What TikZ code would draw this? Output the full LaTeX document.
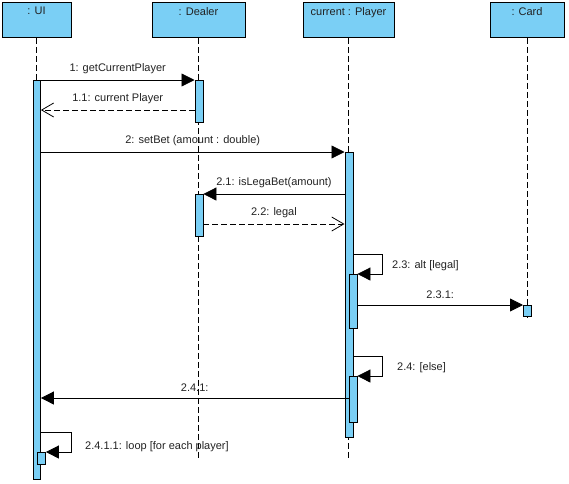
\documentclass[tikz,border=0pt]{standalone}
\usepackage{fontspec}
\setmainfont{Liberation Sans}
\usetikzlibrary{arrows.meta}
\definecolor{actfill}{HTML}{7ACFF5}
\definecolor{txt}{HTML}{222222}
\tikzset{
  obj/.style={draw=black,fill=actfill,line width=0.9pt,minimum width=#1,minimum height=35pt,inner sep=0pt,anchor=north},
  act/.style={draw=black,fill=actfill,line width=0.9pt,inner sep=0pt,anchor=north west},
  life/.style={draw=black,line width=0.8pt,dash pattern=on 6pt off 3pt},
  msg/.style={draw=black,line width=0.8pt,-{Triangle[length=13pt,width=13pt]}},
  ret/.style={draw=black,line width=0.8pt,dash pattern=on 6pt off 3pt,-{Straight Barb[length=12pt,width=14pt,line width=0.8pt]}},
  lbl/.style={text=txt,font=\fontsize{11}{13}\selectfont,inner sep=0pt},
}
\begin{document}
\begin{tikzpicture}[x=1pt,y=-1pt]
\useasboundingbox (0,0) rectangle (569,483);
% objects
\node[obj=69pt] (ui) at (36.5,2) {};
\node[lbl,anchor=north] at (ui.north) [yshift=-5pt] {: UI};
\node[obj=93pt] (dealer) at (198.5,2) {};
\node[lbl,anchor=north] at (dealer.north) [yshift=-5pt] {: Dealer};
\node[obj=91pt] (player) at (348.5,2) {};
\node[lbl,anchor=north] at (player.north) [yshift=-5pt] {current : Player};
\node[obj=74pt] (card) at (527,2) {};
\node[lbl,anchor=north] at (card.north) [yshift=-5pt] {: Card};
% lifelines
\coordinate (uiend) at (36.5,479);
\coordinate (dend) at (198.5,458);
\coordinate (pend) at (348.5,458);
\coordinate (cend) at (527,318);
\draw[life] (ui.south) -- (uiend);
\draw[life] (dealer.south) -- (dend);
\draw[life] (player.south) -- (pend);
\draw[life] (card.south) -- (cend);
% activations
\node[act,minimum width=7pt,minimum height=399pt] (aui) at (33,80) {};
\node[act,minimum width=8pt,minimum height=42pt] (ad1) at (194.5,80) {};
\node[act,minimum width=8pt,minimum height=285pt] (ap) at (344.5,152) {};
\node[act,minimum width=8pt,minimum height=42pt] (ad2) at (194.5,194) {};
\node[act,minimum width=8pt,minimum height=54pt] (ap2) at (348.5,274) {};
\node[act,minimum width=8pt,minimum height=11pt] (ac) at (523,305) {};
\node[act,minimum width=8pt,minimum height=46pt] (ap3) at (348.5,376) {};
\node[act,minimum width=8pt,minimum height=12pt] (au2) at (37,452) {};
% messages
\draw[msg] (aui.north east) -- (ad1.north west) node[lbl,midway,above=6pt] {1: getCurrentPlayer};
\draw[ret] (ad1.west |- 0,110) -- (aui.east |- 0,110) node[lbl,midway,above=6pt] {1.1: current Player};
\draw[msg] (aui.east |- ap.north) -- (ap.north west) node[lbl,pos=0.5,above=6pt] {2: setBet (amount : double)};
\draw[msg] (ap.west |- ad2.north) -- (ad2.north east) node[lbl,midway,above=6pt] {2.1: isLegaBet(amount)};
\draw[ret] (ad2.east |- 0,224) -- (ap.west |- 0,224) node[lbl,midway,above=6pt] {2.2: legal};
\coordinate (l1) at (382,254);
\draw[msg] (ap.east |- l1) -- (l1) |- (ap2.east |- 0,274);
\node[lbl,anchor=west] at (392,266) {2.3: alt [legal]};
\draw[msg] (ap2.east |- ac.north) -- (ac.north west) node[lbl,midway,above=6pt] {2.3.1:};
\coordinate (l2) at (382,356);
\draw[msg] (ap.east |- l2) -- (l2) |- (ap3.east |- 0,376);
\node[lbl,anchor=west] at (397,368) {2.4: [else]};
\draw[msg] (ap3.west |- 0,398) -- (aui.east |- 0,398) node[lbl,midway,above=6pt] {2.4.1:};
\coordinate (l3) at (71.5,432);
\draw[msg] (aui.east |- l3) -- (l3) |- (au2.east |- 0,452);
\node[lbl,anchor=west] at (85,447) {2.4.1.1: loop [for each player]};
\end{tikzpicture}
\end{document}
